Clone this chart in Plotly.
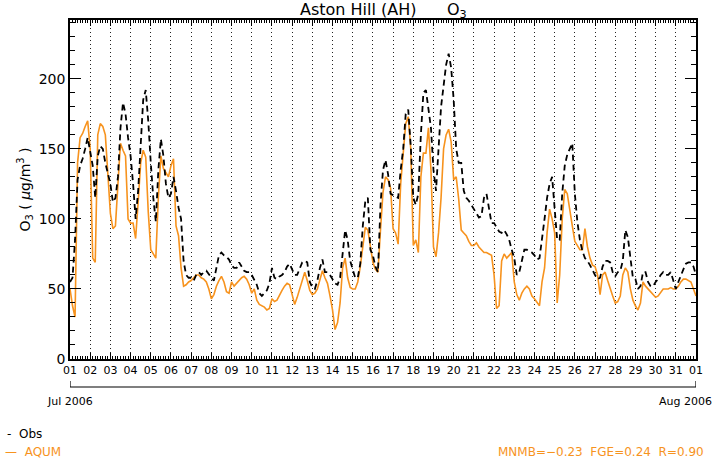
import pandas as pd
import plotly.graph_objects as go

# 3-hourly values, 1 Jul 2006 00h .. 1 Aug 2006 00h (8 per day)
obs = [
    55, 58, 85, 128, 138, 143, 150, 158,      # Jul 1
    148, 138, 115, 145, 152, 150, 140, 132,   # Jul 2
    125, 112, 115, 130, 165, 183, 175, 158,   # Jul 3
    145, 125, 100, 120, 150, 185, 192, 170,   # Jul 4
    140, 115, 98, 135, 157, 145, 125, 115,    # Jul 5
    118, 130, 120, 108, 100, 70, 60, 58,      # Jul 6
    58, 56, 60, 62, 60, 62, 63, 60,           # Jul 7
    58, 56, 65, 74, 76, 74, 73, 71,           # Jul 8
    67, 65, 65, 69, 66, 63, 62, 62,           # Jul 9
    60, 57, 53, 47, 45, 47, 49, 54,           # Jul 10
    65, 58, 57, 59, 60, 62, 66, 68,           # Jul 11
    64, 60, 60, 64, 69, 70, 69, 55,           # Jul 12
    51, 50, 56, 65, 71, 62, 62, 60,           # Jul 13
    57, 54, 53, 58, 75, 92, 85, 70,           # Jul 14
    64, 58, 58, 68, 95, 113, 115, 78,         # Jul 15
    74, 66, 62, 110, 135, 142, 132, 118,      # Jul 16
    117, 116, 115, 135, 150, 175, 178, 152,   # Jul 17
    115, 110, 118, 160, 190, 192, 178, 165,   # Jul 18
    135, 120, 150, 180, 195, 210, 218, 208,   # Jul 19
    185, 150, 140, 140, 120, 115, 113, 110,   # Jul 20
    107, 103, 101, 102, 115, 118, 108, 97,    # Jul 21
    97, 94, 91, 90, 92, 89, 85, 78,           # Jul 22
    72, 60, 62, 70, 78, 78, 77, 76,           # Jul 23
    74, 71, 72, 88, 100, 115, 125, 130,       # Jul 24
    105, 85, 85, 118, 138, 146, 150, 154,     # Jul 25
    118, 98, 85, 77, 72, 70, 67, 63,          # Jul 26
    60, 57, 58, 66, 70, 70, 69, 62,           # Jul 27
    59, 62, 63, 70, 92, 87, 72, 58,           # Jul 28
    57, 50, 52, 62, 62, 55, 52, 52,           # Jul 29
    55, 57, 60, 62, 60, 60, 62, 55,           # Jul 30
    50, 55, 60, 64, 68, 69, 69, 66,           # Jul 31
    60,                                       # Aug 1
]

aqum = [
    50, 38, 30, 140, 158, 161, 166, 170,      # Jul 1
    150, 72, 69, 160, 168, 166, 160, 135,     # Jul 2
    104, 93, 95, 125, 154, 149, 145, 100,     # Jul 3
    97, 97, 86, 112, 140, 149, 144, 105,      # Jul 4
    78, 75, 72, 115, 145, 136, 133, 130,      # Jul 5
    138, 143, 95, 88, 65, 52, 53, 55,         # Jul 6
    56, 58, 60, 60, 58, 57, 55, 50,           # Jul 7
    43, 46, 52, 56, 59, 55, 48, 47,           # Jul 8
    55, 52, 54, 56, 58, 59, 57, 53,           # Jul 9
    47, 50, 42, 39, 38, 37, 35, 36,           # Jul 10
    43, 41, 42, 46, 49, 52, 54, 53,           # Jul 11
    45, 39, 44, 50, 56, 62, 56, 49,           # Jul 12
    46, 47, 50, 57, 63, 58, 54, 45,           # Jul 13
    35, 21, 26, 40, 65, 72, 58, 51,           # Jul 14
    50, 50, 55, 66, 80, 94, 92, 79,           # Jul 15
    69, 64, 62, 92, 119, 130, 128, 122,       # Jul 16
    93, 90, 82, 125, 150, 168, 173, 150,      # Jul 17
    81, 85, 76, 130, 147, 147, 165, 135,      # Jul 18
    80, 73, 90, 115, 150, 160, 164, 155,      # Jul 19
    128, 130, 114, 92, 90, 88, 84, 81,        # Jul 20
    81, 83, 80, 78, 76, 76, 75, 74,           # Jul 21
    60, 36, 38, 70, 75, 72, 74, 76,           # Jul 22
    55, 46, 42, 47, 50, 52, 50, 45,           # Jul 23
    43, 40, 38, 55, 65, 90, 107, 100,         # Jul 24
    90, 40, 60, 100, 121, 118, 108, 95,       # Jul 25
    84, 81, 78, 78, 93, 80, 72, 67,           # Jul 26
    66, 60, 46, 60, 62, 56, 50, 45,           # Jul 27
    40, 41, 45, 60, 65, 62, 50, 42,           # Jul 28
    38, 35, 40, 55, 52, 50, 48, 46,           # Jul 29
    44, 45, 48, 50, 50, 50, 51, 50,           # Jul 30
    50, 52, 55, 57, 57, 56, 55, 50,           # Jul 31
    45,                                       # Aug 1
]

times = pd.date_range("2006-07-01", periods=len(obs), freq="3h")

y_ticks = [0, 50, 100, 150, 200]
title_text = "Aston Hill (AH)      O<sub>3</sub>"
y_title = "O<sub>3</sub> ( <i>μ</i>g/m<sup>3</sup> )"
stats_text = "MNMB=−0.23  FGE=0.24  R=0.90"

ORANGE = "#F7931E"
FONT = "DejaVu Sans"

fig = go.Figure()
fig.add_trace(go.Scatter(x=times, y=aqum, mode="lines",
                         line=dict(color=ORANGE, width=1.6), name="AQUM"))
fig.add_trace(go.Scatter(x=times, y=obs, mode="lines",
                         line=dict(color="black", width=1.8, dash="6px,4px"), name="Obs"))

W, H = 716, 474
ml, mr, mt, mb = 70, 20, 20, 115
ph = H - mt - mb


def py(ypix):
    return (H - mb - ypix) / ph


def px(xpix):
    return (xpix - ml) / (W - ml - mr)


fig.update_layout(
    width=W, height=H,
    margin=dict(l=ml, r=mr, t=mt, b=mb),
    paper_bgcolor="white", plot_bgcolor="white",
    showlegend=False,
    font=dict(family=FONT, color="black"),
)

fig.update_xaxes(
    type="date",
    range=["2006-07-01", "2006-08-01"],
    dtick=86400000, tick0="2006-07-01",
    tickformat="%d",
    ticks="inside", ticklen=6, tickcolor="black", tickwidth=1,
    showline=True, linecolor="black", linewidth=1.5, mirror="ticks",
    showgrid=True, gridcolor="#222222", gridwidth=1, griddash="1px,3px",
    minor=dict(dtick=3 * 3600000, ticks="inside", ticklen=3,
               tickcolor="black", showgrid=False),
    tickfont=dict(size=11, family=FONT, color="black"),
    zeroline=False,
)

fig.update_yaxes(
    range=[0, 242],
    tickvals=y_ticks,
    ticks="inside", ticklen=11, tickcolor="black", tickwidth=1.2,
    showline=True, linecolor="black", linewidth=1.5, mirror="ticks",
    showgrid=False, zeroline=False,
    minor=dict(dtick=10, ticks="inside", ticklen=5, tickcolor="black", showgrid=False),
    tickfont=dict(size=14, family=FONT, color="black"),
    title=dict(text=y_title, font=dict(size=14, family=FONT, color="black"), standoff=5),
)

# date bracket below the axis
fig.add_shape(type="line", xref="x", yref="paper",
              x0="2006-07-01", x1="2006-08-01", y0=py(387), y1=py(387),
              line=dict(color="black", width=1.2))
fig.add_shape(type="line", xref="x", yref="paper",
              x0="2006-07-01", x1="2006-07-01", y0=py(381), y1=py(387),
              line=dict(color="black", width=1.2))
fig.add_shape(type="line", xref="x", yref="paper",
              x0="2006-08-01", x1="2006-08-01", y0=py(381), y1=py(387),
              line=dict(color="black", width=1.2))

ann = [
    dict(text=title_text, x=0.5, y=py(10), xref="paper", yref="paper",
         xanchor="center", yanchor="middle", showarrow=False,
         font=dict(size=16, color="black")),
    dict(text="Jul 2006", x=px(70), y=py(401), xref="paper", yref="paper",
         xanchor="center", yanchor="middle", showarrow=False,
         font=dict(size=11, color="black")),
    dict(text="Aug 2006", x=px(714), y=py(401), xref="paper", yref="paper",
         xanchor="right", yanchor="middle", showarrow=False,
         font=dict(size=11, color="black")),
    dict(text="-  Obs", x=px(5), y=py(434), xref="paper", yref="paper",
         xanchor="left", yanchor="middle", showarrow=False,
         font=dict(size=12, color="black")),
    dict(text="—  AQUM", x=px(3), y=py(452), xref="paper", yref="paper",
         xanchor="left", yanchor="middle", showarrow=False,
         font=dict(size=12, color=ORANGE)),
    dict(text=stats_text, x=px(496), y=py(452), xref="paper", yref="paper",
         xanchor="left", yanchor="middle", showarrow=False,
         font=dict(size=12, color=ORANGE)),
]
fig.update_layout(annotations=ann)

fig.write_html("out.html")
